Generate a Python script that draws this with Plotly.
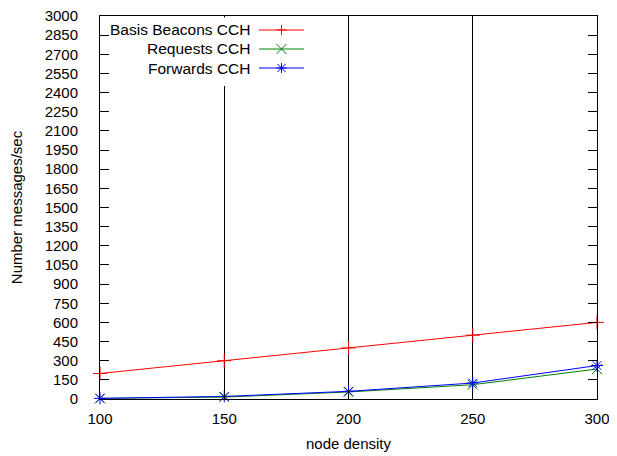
import plotly.graph_objects as go

node_density = [100, 150, 200, 250, 300]
basis_beacons = [200, 300, 400, 500, 600]
requests = [5, 15, 55, 112, 235]
forwards = [5, 20, 60, 125, 262]

series_names = ["Basis Beacons CCH", "Requests CCH", "Forwards CCH"]
series_colors = ["#ff0000", "#008000", "#0000ff"]
series_symbols = ["cross-thin", "x-thin", "asterisk"]
series_values = [basis_beacons, requests, forwards]

FONT = "Liberation Sans, Arial, sans-serif"
OFF = 8  # default body margin of the html page
W, H = 617 - OFF, 456 - OFF
# plot area in page pixels: left 100, right 597, top 16, bottom 399
ML, MT = 100 - OFF, 16 - OFF
MR, MB = 617 - 597, 456 - 399
PW, PH = W - ML - MR, H - MT - MB

fig = go.Figure()
for name, col, sym, vals in zip(series_names, series_colors, series_symbols, series_values):
    fig.add_trace(go.Scatter(
        x=node_density, y=vals, name=name, mode="lines+markers",
        line=dict(color=col, width=1),
        marker=dict(symbol=sym, size=10, color=col, line=dict(color=col, width=1)),
        showlegend=False, cliponaxis=False,
    ))

def px_to_paper_x(px):
    return (px - 100) / PW

def px_to_paper_y(py):
    return (399 - py) / PH

shapes = []
shapes.append(dict(type="rect", xref="paper", yref="paper",
                   x0=px_to_paper_x(111), x1=px_to_paper_x(310),
                   y0=px_to_paper_y(86), y1=px_to_paper_y(17.5),
                   fillcolor="white", line=dict(width=0), layer="above"))
annotations = []
glyphs = {
    "cross-thin": "M-5,0 L5,0 M0,-5 L0,5",
    "x-thin": "M-5,-5 L5,5 M-5,5 L5,-5",
    "asterisk": "M-5,0 L5,0 M0,-5 L0,5 M-4,-4 L4,4 M-4,4 L4,-4",
}
row_y = [30, 49, 68]
for name, col, sym, ry in zip(series_names, series_colors, series_symbols, row_y):
    yp = px_to_paper_y(ry)
    annotations.append(dict(text=name, xref="paper", yref="paper",
                            x=px_to_paper_x(252), y=yp, xanchor="right", yanchor="middle",
                            showarrow=False, font=dict(family=FONT, size=15.5, color="black")))
    shapes.append(dict(type="line", xref="paper", yref="paper",
                       x0=px_to_paper_x(259), x1=px_to_paper_x(304), y0=yp, y1=yp,
                       line=dict(color=col, width=1), layer="above"))
    shapes.append(dict(type="path", xref="paper", yref="paper",
                       xsizemode="pixel", ysizemode="pixel",
                       xanchor=px_to_paper_x(281.5), yanchor=yp,
                       path=glyphs[sym], line=dict(color=col, width=1), layer="above"))

fig.update_layout(
    width=W, height=H,
    margin=dict(l=ML, r=MR, t=MT, b=MB, autoexpand=False),
    paper_bgcolor="white", plot_bgcolor="white",
    font=dict(family=FONT, size=15, color="black"),
    shapes=shapes, annotations=annotations,
    showlegend=False,
)
fig.update_xaxes(
    range=[100, 300], dtick=50, tick0=100,
    showgrid=True, gridcolor="black", gridwidth=1,
    showline=True, linecolor="black", linewidth=1, mirror="ticks",
    ticks="inside", ticklen=9, tickcolor="black",
    ticklabelstandoff=6, automargin=False, ticklabeloverflow="allow",
    zeroline=False,
    title=dict(text="node density", font=dict(family=FONT, size=15), standoff=12),
)
fig.update_yaxes(
    range=[0, 3000], dtick=150, tick0=0,
    showgrid=False,
    showline=True, linecolor="black", linewidth=1, mirror="ticks",
    ticks="inside", ticklen=9, tickcolor="black",
    ticklabelstandoff=18, automargin=False, ticklabeloverflow="allow",
    zeroline=False,
    title=dict(text="Number messages/sec", font=dict(family=FONT, size=15), standoff=18),
)

fig.write_html("out.html")
